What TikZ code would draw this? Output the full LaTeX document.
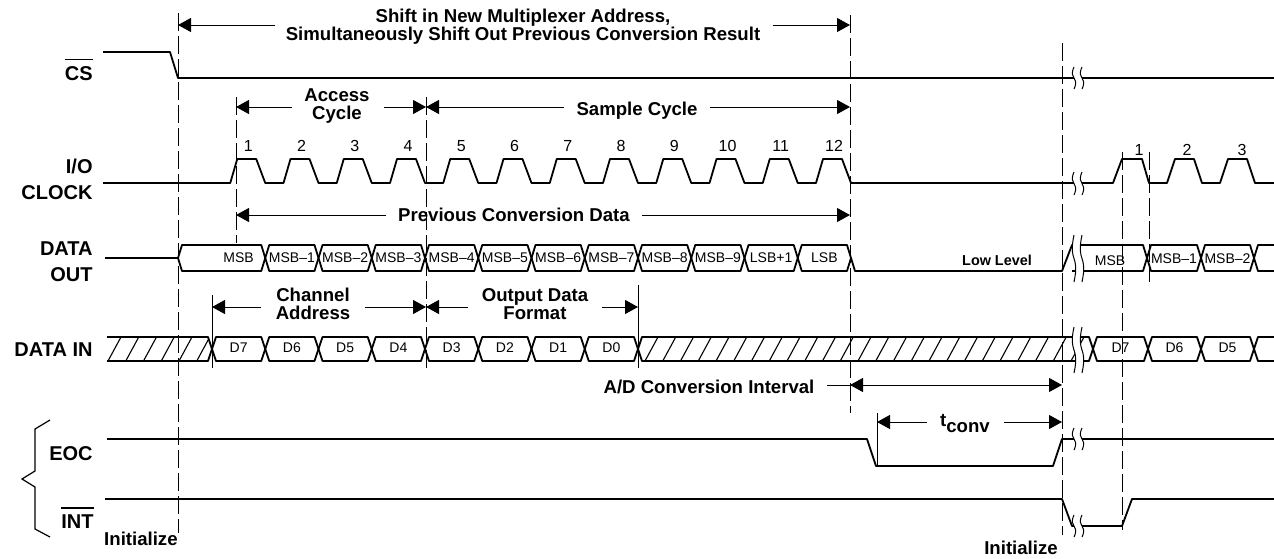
\documentclass[tikz,border=0pt]{standalone}
\usepackage{fontspec}
\setmainfont{Liberation Sans}
\usetikzlibrary{arrows.meta,calc}
% overlined (active-low) signal name
\newcommand{\barsig}[1]{\vbox{\hrule height 0.8pt\kern 2.8pt\hbox{#1}}}
% break mark: x, top y, bottom y
\newcommand{\sigbreak}[3]{%
  \fill[white] (#1,#2) .. controls +(-6,{0.6*(#3-#2)}) and +(6,{-0.6*(#3-#2)}) .. (#1,#3)
    -- (#1+8,#3) .. controls +(6,{-0.6*(#3-#2)}) and +(-6,{0.6*(#3-#2)}) .. (#1+8,#2) -- cycle;
  \draw[breakmark] (#1,#2) .. controls +(-6,{0.6*(#3-#2)}) and +(6,{-0.6*(#3-#2)}) .. (#1,#3);
  \draw[breakmark] (#1+8,#2) .. controls +(-6,{0.6*(#3-#2)}) and +(6,{-0.6*(#3-#2)}) .. (#1+8,#3);
}
\tikzset{
  % Waveforms and bus outlines
  wave/.style={line width=0.9pt, line join=round},
  hatchline/.style={line width=0.55pt},
  breakmark/.style={line width=0.5pt},
  brace/.style={line width=0.6pt},
  % Timing references
  guide/.style={line width=0.5pt, dash pattern=on 9pt off 2.5pt},
  extline/.style={line width=0.5pt},
  % Dimension arrows
  dimarr/.style={-{Triangle[length=6.5pt,width=7pt]}, line width=0.5pt},
  dimbi/.style={{Triangle[length=6.5pt,width=7pt]}-{Triangle[length=6.5pt,width=7pt]}, line width=0.5pt},
  % Texts (base anchor = baseline of the last line)
  signame/.style={font=\fontsize{10}{13}\selectfont\bfseries, align=right, inner sep=0pt, anchor=base east},
  phase/.style={font=\fontsize{9.3}{8.9}\selectfont\bfseries, align=center, inner sep=0pt, anchor=base},
  bitlbl/.style={font=\fontsize{7}{8}\selectfont, inner sep=0pt, anchor=base},
  clknum/.style={font=\fontsize{8}{9}\selectfont, inner sep=0pt, anchor=base}
}
\begin{document}
\begin{tikzpicture}[x=0.5pt, y=-0.5pt]
\useasboundingbox (0,0) rectangle (1274,558);

% ============== Signal names ==============
\node[signame] (cs) at (93,80) {\barsig{CS}};
\node[signame] (clk) at (93,199) {I/O\\CLOCK};
\node[signame] (dout) at (93,281.7) {DATA\\OUT};
\node[signame] (din) at (93,356.7) {DATA IN};
\node[signame] (eoc) at (93,460) {EOC};
\node[signame] (int) at (94,528) {\barsig{INT}};
\draw[brace] (50,420) -- (35,429) -- (35,471) -- (22,479) -- (35,487) -- (35,529) -- (50,537);

% ============== Timing reference lines ==============
\draw[guide] (178,13) -- (178,533);
\draw[guide] (850,15) -- (850,413);
\draw[guide] (1062,43) -- (1062,535);
\draw[guide] (236,97) -- (236,243);
\draw[guide] (426,97) -- (426,368);
\draw[guide] (1122,152) -- (1122,530);
\draw[guide] (1149,152) -- (1149,282);
\draw[extline] (212,295) -- (212,368);
\draw[extline] (638,285) -- (638,368);
\draw[extline] (877,413) -- (877,465);

% ============== CS ==============
\draw[wave] (103,52) -- (170,52) -- (178,78) -- (1274,78);

% ============== I/O CLOCK ==============
\draw[wave] (103,183)
  \foreach \i in {1,...,12} { -- ({212+53.25*\i-35},183) -- ++(7,-24) -- ++(19,0) -- ++(9,24) }
  -- (1113,183) -- ++(9,-24) -- ++(20,0) -- ++(7,24)
  -- (1167,183) -- ++(8,-24) -- ++(19,0) -- ++(8,24)
  -- (1220,183) -- ++(8,-24) -- ++(19,0) -- ++(8,24) -- (1274,183);
\foreach \i in {1,...,12}
  \node[clknum] (n\i) at ({212+53.25*\i-17},151.7) {\i};
\foreach \i/\x in {1/1139,2/1187,3/1242}
  \node[clknum] (m\i) at (\x,155) {\i};

% ============== DATA OUT ==============
\draw[wave] (105,258) -- (178,258);
\foreach \t [count=\k] in {MSB,MSB\textendash1,MSB\textendash2,MSB\textendash3,MSB\textendash4,MSB\textendash5,MSB\textendash6,MSB\textendash7,MSB\textendash8,MSB\textendash9,LSB+1,LSB}{
  \pgfmathsetmacro{\xa}{\k==1 ? 178 : 212+53.25*(\k-1)}
  \pgfmathsetmacro{\xb}{212+53.25*\k}
  \draw[wave] (\xa,258) -- (\xa+4,245) -- (\xb-4,245) -- (\xb,258) -- (\xb-4,271) -- (\xa+4,271) -- cycle;
  \node[bitlbl] (do\k) at ({212+53.25*(\k-0.5)},262.3) {\t};
}
\draw[wave] (851,258) -- (855,271) -- (1062,271) -- (1072,245) -- (1143,245) -- (1147,258) -- (1143,271) -- (1072,271);
\node[font=\fontsize{7.2}{8}\selectfont\bfseries, inner sep=0pt, anchor=base] (low) at (997,265.7) {Low Level};
\node[bitlbl] (dr1) at (1110,265.5) {MSB};
\foreach \t/\xa/\xb [count=\k from 2] in {MSB\textendash1/1147/1201,MSB\textendash2/1201/1254}{
  \draw[wave] (\xa,258) -- (\xa+4,245) -- (\xb-4,245) -- (\xb,258) -- (\xb-4,271) -- (\xa+4,271) -- cycle;
  \node[bitlbl] (dr\k) at ({(\xa+\xb)/2},263) {\t};
}
\draw[wave] (1274,245) -- (1258,245) -- (1254,258) -- (1258,271) -- (1274,271);

% ============== DATA IN ==============
\begin{scope}
  \clip (107,337) -- (208,337) -- (212,349) -- (208,361) -- (107,361) -- cycle;
  \foreach \x in {0,...,6} \draw[hatchline] ({108+17.75*\x},361) -- ++(13,-24);
\end{scope}
\draw[wave] (107,337) -- (208,337) -- (212,349) -- (208,361) -- (107,361);
\begin{scope}
  \clip (638,349) -- (642,337) -- (1089,337) -- (1093,349) -- (1089,361) -- (642,361) -- cycle;
  \foreach \x in {0,...,25} \draw[hatchline] ({645+17.75*\x},361) -- ++(13,-24);
\end{scope}
\draw[wave] (638,349) -- (642,337) -- (1089,337) -- (1093,349) -- (1089,361) -- (642,361) -- cycle;
\foreach \t [count=\k] in {D7,D6,D5,D4,D3,D2,D1,D0}{
  \pgfmathsetmacro{\xa}{212+53.25*(\k-1)}
  \pgfmathsetmacro{\xb}{212+53.25*\k}
  \draw[wave] (\xa,349) -- (\xa+4,337) -- (\xb-4,337) -- (\xb,349) -- (\xb-4,361) -- (\xa+4,361) -- cycle;
  \node[bitlbl] (di\k) at ({(\xa+\xb)/2},352) {\t};
}
\foreach \t/\xa/\xb [count=\k] in {D7/1093/1148,D6/1148/1201,D5/1201/1254}{
  \draw[wave] (\xa,349) -- (\xa+4,337) -- (\xb-4,337) -- (\xb,349) -- (\xb-4,361) -- (\xa+4,361) -- cycle;
  \node[bitlbl] (dir\k) at ({(\xa+\xb)/2},352) {\t};
}
\draw[wave] (1274,337) -- (1258,337) -- (1254,349) -- (1258,361) -- (1274,361);

% ============== EOC / INT ==============
\draw[wave] (107,439) -- (867,439) -- (876,466) -- (1053,466) -- (1062,439) -- (1274,439);
\draw[wave] (105,499) -- (1062,499) -- (1072,526) -- (1122,526) -- (1132,499) -- (1274,499);

% ============== Break marks ==============
\sigbreak{1074}{67}{89}
\sigbreak{1074}{172}{195}
\sigbreak{1074}{235}{282}
\sigbreak{1074}{327}{373}
\sigbreak{1074}{428}{450}
\sigbreak{1074}{515}{537}

% ============== Interval annotations ==============
\coordinate (shiftL) at (178,25);  \coordinate (shiftR) at (850,25);
\coordinate (accL) at (236,107);   \coordinate (accR) at (426,107);
\coordinate (smpR) at (850,107);
\coordinate (prevL) at (236,215);  \coordinate (prevR) at (850,215);
\coordinate (chL) at (212,307);    \coordinate (chR) at (426,307);
\coordinate (fmtR) at (638,307);
\coordinate (adL) at (850,385);    \coordinate (adR) at (1062,385);
\coordinate (tcL) at (877,422);    \coordinate (tcR) at (1062,422);

\node[phase] (shift) at (523,40) {Shift in New Multiplexer Address,\\Simultaneously Shift Out Previous Conversion Result};
\draw[dimarr] ($(shiftL -| shift.west)+(-5pt,0)$) -- (shiftL);
\draw[dimarr] ($(shiftR -| shift.east)+(6pt,0)$) -- (shiftR);

\node[phase] (acc) at (337,119.3) {Access\\Cycle};
\draw[dimarr] ($(accL -| acc.west)+(-6pt,0)$) -- (accL);
\draw[dimarr] ($(accR -| acc.east)+(7pt,0)$) -- (accR);

\node[phase] (smp) at (637,115) {Sample Cycle};
\draw[dimarr] ($(accR -| smp.west)+(-6pt,0)$) -- (accR);
\draw[dimarr] ($(smpR -| smp.east)+(6pt,0)$) -- (smpR);

\node[phase] (prev) at (514,221.7) {Previous Conversion Data};
\draw[dimarr] ($(prevL -| prev.west)+(-6pt,0)$) -- (prevL);
\draw[dimarr] ($(prevR -| prev.east)+(6pt,0)$) -- (prevR);

\node[phase] (ch) at (313,319.3) {Channel\\Address};
\draw[dimarr] ($(chL -| ch.west)+(-7pt,0)$) -- (chL);
\draw[dimarr] ($(chR -| ch.east)+(7pt,0)$) -- (chR);

\node[phase] (fmt) at (535,319.3) {Output Data\\Format};
\draw[dimarr] ($(chR -| fmt.west)+(-6.5pt,0)$) -- (chR);
\draw[dimarr] ($(fmtR -| fmt.east)+(6.5pt,0)$) -- (fmtR);

\node[phase] (ad) at (709,393.3) {A/D Conversion Interval};
\draw[extline] ($(adL -| ad.east)+(6pt,0)$) -- (adL);
\draw[dimbi] (adL) -- (adR);

\node[phase] (tc) at (965,426.7) {t\raisebox{-3pt}{conv}};
\draw[dimarr] ($(tcL -| tc.west)+(-6.5pt,0)$) -- (tcL);
\draw[dimarr] ($(tcR -| tc.east)+(7pt,0)$) -- (tcR);

% ============== Initialize markers ==============
\node[phase, anchor=base east] (init1) at (178,545.7) {Initialize};
\node[phase] (init2) at (1021,554) {Initialize};

\end{tikzpicture}
\end{document}
